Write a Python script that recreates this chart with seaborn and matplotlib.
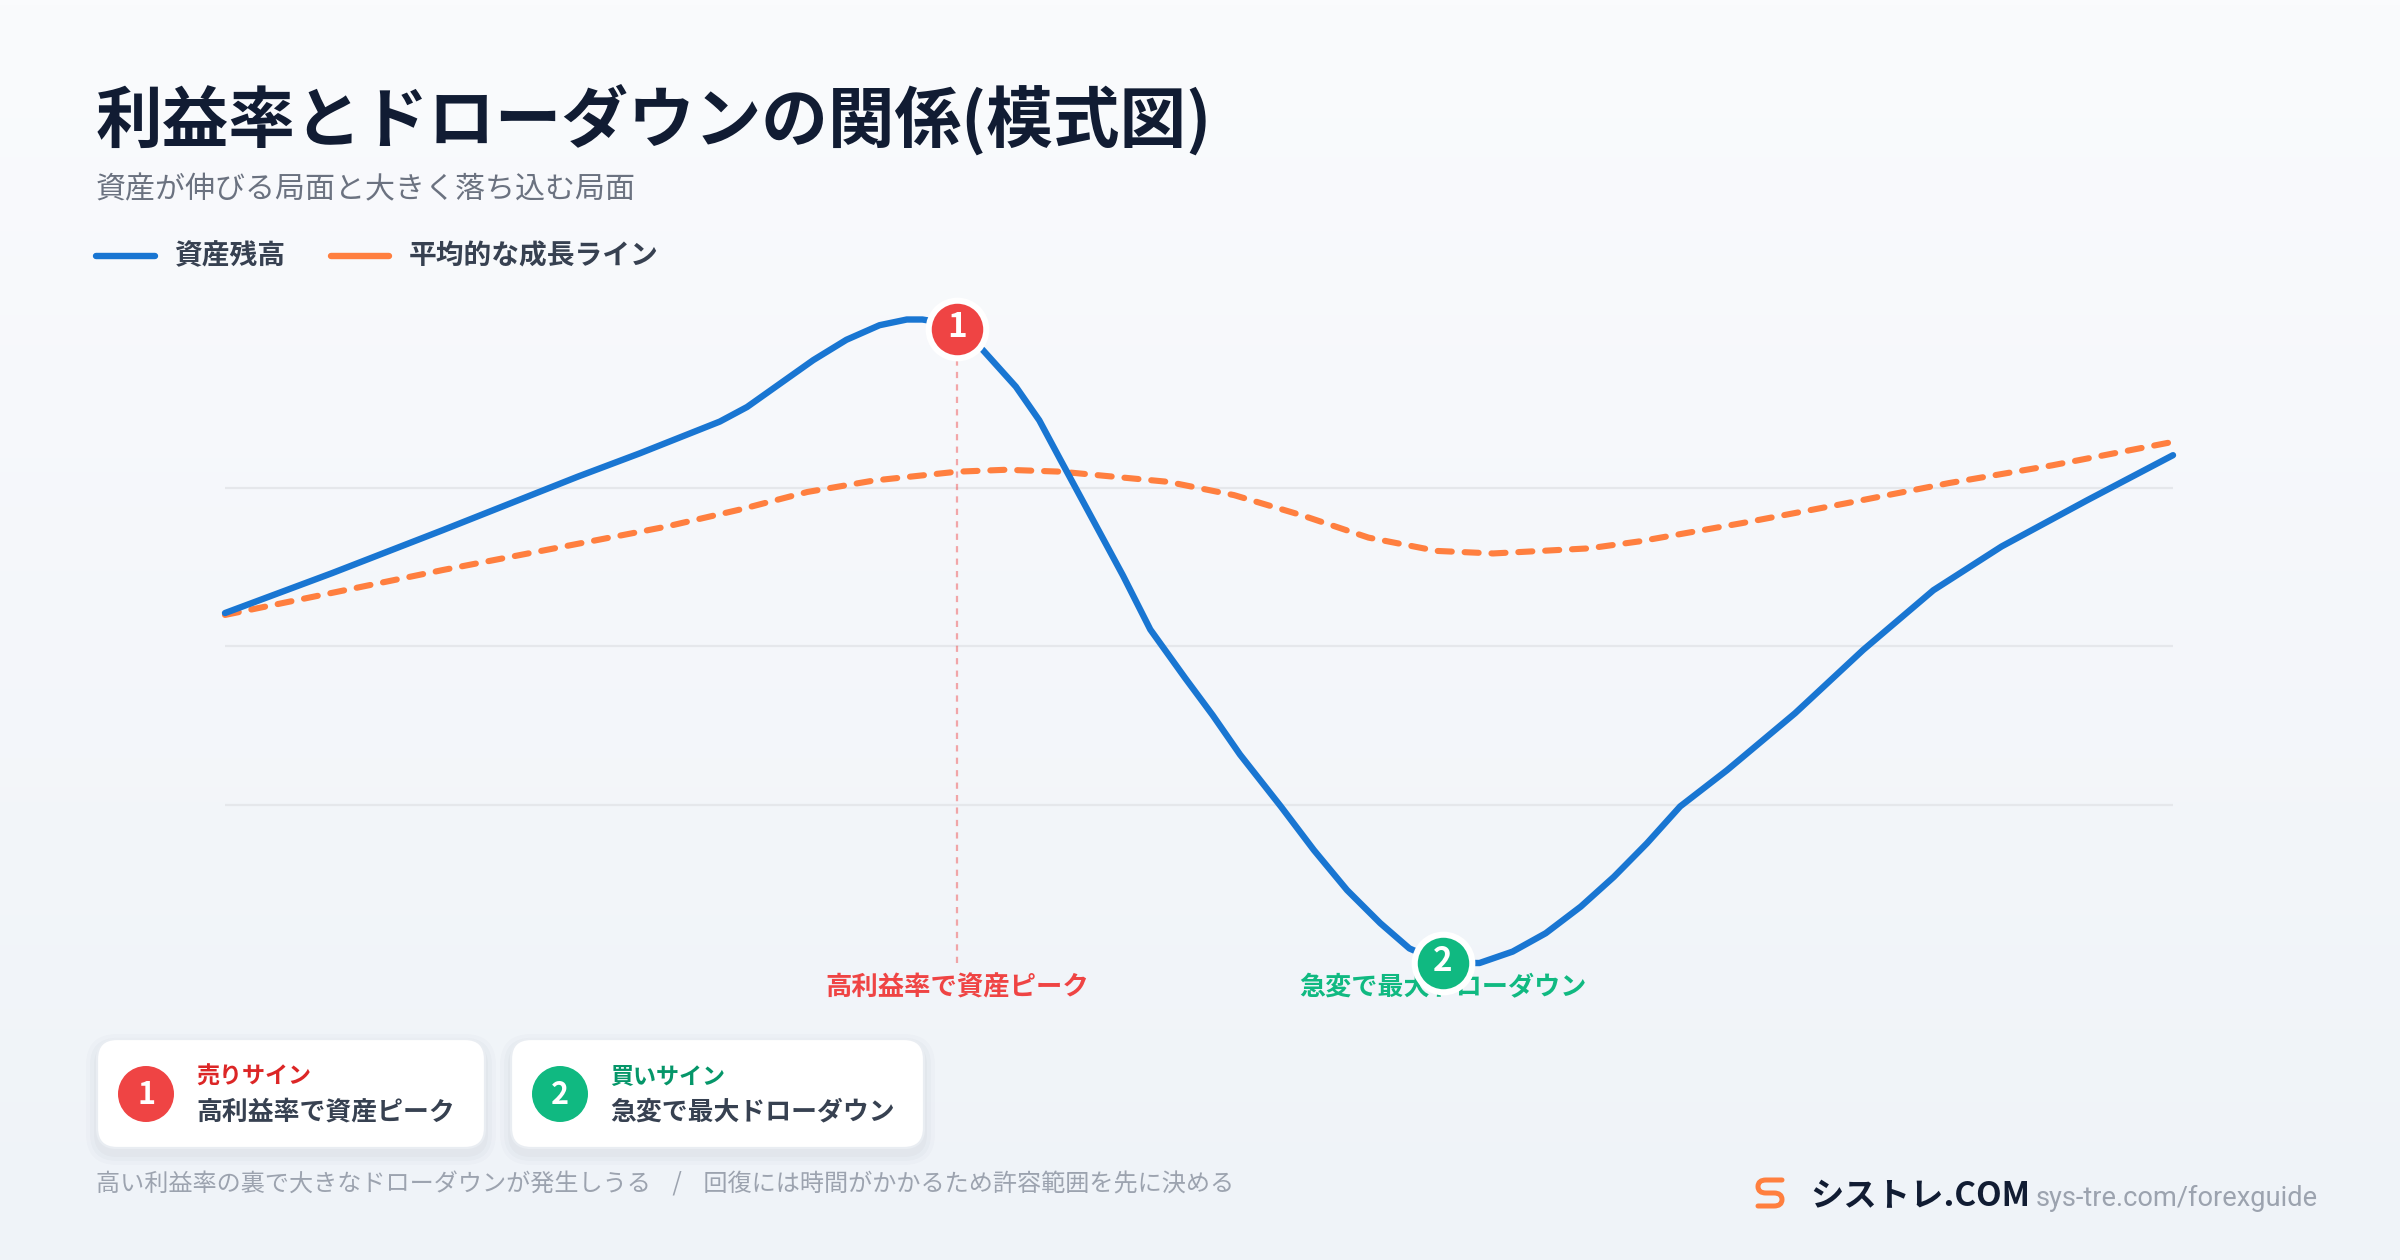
import numpy as np
import pandas as pd
import matplotlib
matplotlib.use("Agg")
import matplotlib.pyplot as plt
import matplotlib.patches as patches
from matplotlib.path import Path
from matplotlib.colors import LinearSegmentedColormap
import seaborn as sns

# --- data (schematic units 0-100) ---
equity_x = [0, 5.5, 11.2, 18.1, 21.3, 25.4, 26.8, 28.5, 30.2, 31.9, 33.6, 35.0, 35.8, 36.8, 37.6,
            38.9, 40.6, 41.8, 42.9, 46.1, 47.5, 49.3, 50.7, 52.1, 54.2, 55.9, 57.6, 59.3, 60.8,
            62.5, 64.4, 66.1, 67.8, 69.6, 71.3, 73.0, 74.7, 77.1, 80.6, 84.1, 87.7, 91.2, 95.6, 100]
equity_y = [55.2, 61.5, 68.3, 76.7, 80.4, 85.4, 87.7, 91.4, 95.1, 98.3, 100.6, 101.5, 101.5, 101.0, 100.0,
            96.7, 90.9, 85.6, 79.3, 61.1, 52.6, 44.9, 39.1, 32.9, 24.7, 17.8, 11.5, 6.3, 2.3,
            0.0, 0.0, 1.8, 4.7, 8.9, 13.6, 18.9, 24.7, 30.4, 39.4, 49.4, 58.8, 65.7, 73.0, 80.1]

avg_x = [0, 11.2, 22.6, 26.4, 29.9, 33.3, 37.6, 40.1, 42.9, 48.4, 51.8, 55.3, 58.7, 62.2, 65.1,
         70.0, 72.6, 77.9, 83.2, 88.5, 93.8, 100]
avg_y = [54.9, 62.0, 68.8, 71.5, 74.3, 76.1, 77.5, 77.8, 77.5, 75.9, 73.8, 70.6, 67.1, 65.0, 64.6,
         65.4, 66.5, 69.4, 72.5, 75.7, 78.5, 82.2]

peak_xy = (37.6, 100.0)
trough_xy = (62.5, 0.0)
grid_levels = [25, 50, 75]

title = "利益率とドローダウンの関係(模式図)"
subtitle = "資産が伸びる局面と大きく落ち込む局面"
legend_labels = ["資産残高", "平均的な成長ライン"]
peak_label = "高利益率で資産ピーク"
trough_label = "急変で最大ドローダウン"
cards = [("1", "売りサイン", "高利益率で資産ピーク"), ("2", "買いサイン", "急変で最大ドローダウン")]
footer = "高い利益率の裏で大きなドローダウンが発生しうる    /    回復には時間がかかるため許容範囲を先に決める"

BLUE = "#1976d2"
ORANGE = "#ff7f3f"
RED = "#ef4444"
GREEN = "#10b981"
NAVY = "#111c33"

sns.set_theme(style="white")
plt.rcParams["font.family"] = ["Noto Sans CJK JP", "DejaVu Sans"]

fig = plt.figure(figsize=(12, 6.3), dpi=200)

# background / decoration layer in pixel coordinates (y down)
bg = fig.add_axes([0, 0, 1, 1], zorder=0)
bg.set_xlim(0, 2400)
bg.set_ylim(1260, 0)
bg.axis("off")
grad = np.linspace(0, 1, 256).reshape(-1, 1)
cmap = LinearSegmentedColormap.from_list("bgc", ["#fafbfd", "#eff3f8"])
bg.imshow(grad, extent=[0, 2400, 1260, 0], aspect="auto", cmap=cmap, zorder=0)

# title + subtitle
bg.text(96, 120, title, fontsize=24, fontweight="bold", color=NAVY, va="center", ha="left")
bg.text(96, 190, subtitle, fontsize=10.8, color="#6b7280", va="center", ha="left")

# legend
for (x0, x1, tx), col, lab in zip([(96, 155, 174), (331, 389, 409)], [BLUE, ORANGE], legend_labels):
    bg.plot([x0, x1], [256, 256], color=col, lw=2.3, solid_capstyle="round")
    bg.text(tx, 256, lab, fontsize=10, fontweight="bold", color="#374151", va="center", ha="left")

# cards
card_boxes = [(97, 1039, 388, 109), (511, 1039, 413, 109)]
card_cols = [(RED, "#dc2626"), (GREEN, "#059669")]
for (cx, cy, cw, ch), (num, head, body), (ccol, hcol) in zip(card_boxes, cards, card_cols):
    for k, a in enumerate([0.025, 0.02, 0.015]):
        e = 3 + 4 * k
        bg.add_patch(patches.FancyBboxPatch((cx - e, cy - e + 6), cw + 2 * e, ch + 2 * e,
                                            boxstyle=f"round,pad=0,rounding_size={20 + e}",
                                            fc="#1e293b", ec="none", alpha=a, zorder=1))
    bg.add_patch(patches.FancyBboxPatch((cx, cy), cw, ch, boxstyle="round,pad=0,rounding_size=20",
                                        fc="white", ec="#e9edf2", lw=0.8, zorder=2))
    bg.add_patch(patches.Circle((cx + 49, cy + 55), 28, fc=ccol, ec="none", zorder=3))
    bg.text(cx + 49, cy + 56, num, fontsize=11, fontweight="bold", color="white",
            ha="center", va="center", zorder=4)
    bg.text(cx + 99, cy + 38, head, fontsize=8.3, fontweight="bold", color=hcol,
            ha="left", va="center", zorder=4)
    bg.text(cx + 99, cy + 73, body, fontsize=9.3, fontweight="bold", color="#374151",
            ha="left", va="center", zorder=4)

# footer
bg.text(96, 1185, footer, fontsize=8.7, color="#9ca3af", va="center", ha="left")

# logo
verts = [(1782, 1180), (1766, 1180), (1758, 1180), (1758, 1186.5), (1758, 1193), (1766, 1193),
         (1774, 1193), (1782, 1193), (1782, 1199.5), (1782, 1206), (1774, 1206), (1758, 1206)]
codes = [Path.MOVETO, Path.LINETO, Path.CURVE3, Path.CURVE3, Path.CURVE3, Path.CURVE3,
         Path.LINETO, Path.CURVE3, Path.CURVE3, Path.CURVE3, Path.CURVE3, Path.LINETO]
bg.add_patch(patches.PathPatch(Path(verts, codes), fc="none", ec=ORANGE, lw=1.8,
                               capstyle="round", joinstyle="round"))
bg.text(1810, 1206, "シストレ.COM", fontsize=12, fontweight="bold", color=NAVY,
        ha="left", va="baseline")
bg.text(2036, 1206, "sys-tre.com/forexguide", fontsize=9.8, color="#9ca3af",
        ha="left", va="baseline", family=["Roboto", "DejaVu Sans"])

# main chart
ax = fig.add_axes([0.09375, 0.17532, 0.81167, 0.60381], zorder=1)
ax.patch.set_alpha(0)
ax.set_xlim(0, 100)
ax.set_ylim(-12, 108)
ax.set_yticks(grid_levels)
ax.set_xticks([])
ax.tick_params(length=0, labelleft=False, labelbottom=False)
ax.grid(axis="y", color="#e5e7eb", lw=0.8)
ax.set_axisbelow(True)
for s in ax.spines.values():
    s.set_visible(False)

df_avg = pd.DataFrame({"x": avg_x, "y": avg_y})
df_eq = pd.DataFrame({"x": equity_x, "y": equity_y})

sns.lineplot(data=df_avg, x="x", y="y", ax=ax, color=ORANGE, lw=2.2, zorder=3)
ln = ax.lines[-1]
ln.set_dashes([2.3, 2.1])
ln.set_dash_capstyle("round")
ln.set_clip_on(False)

sns.lineplot(data=df_eq, x="x", y="y", ax=ax, color=BLUE, lw=2.3, zorder=4)
ax.lines[-1].set_solid_capstyle("round")
ax.lines[-1].set_solid_joinstyle("round")
ax.lines[-1].set_clip_on(False)
ax.set_xlabel("")
ax.set_ylabel("")

# peak guide line
ax.plot([peak_xy[0], peak_xy[0]], [0, peak_xy[1]], color=RED, alpha=0.45, lw=0.8,
        dashes=(2.8, 2.8), zorder=2)

# point labels
ax.text(peak_xy[0], -3.9, peak_label, color=RED, fontsize=9.5, fontweight="bold",
        ha="center", va="center", zorder=5)
ax.text(trough_xy[0], -3.9, trough_label, color=GREEN, fontsize=9.4, fontweight="bold",
        ha="center", va="center", zorder=5)

# markers
for (mx, my), col, num in [(peak_xy, RED, "1"), (trough_xy, GREEN, "2")]:
    sns.scatterplot(x=[mx], y=[my], ax=ax, s=430, color=col, edgecolor="white",
                    linewidth=2.2, zorder=6, clip_on=False)
    ax.text(mx, my + 0.3, num, color="white", fontsize=12, fontweight="bold",
            ha="center", va="center", zorder=7)

fig.savefig("out.png", dpi=200)
